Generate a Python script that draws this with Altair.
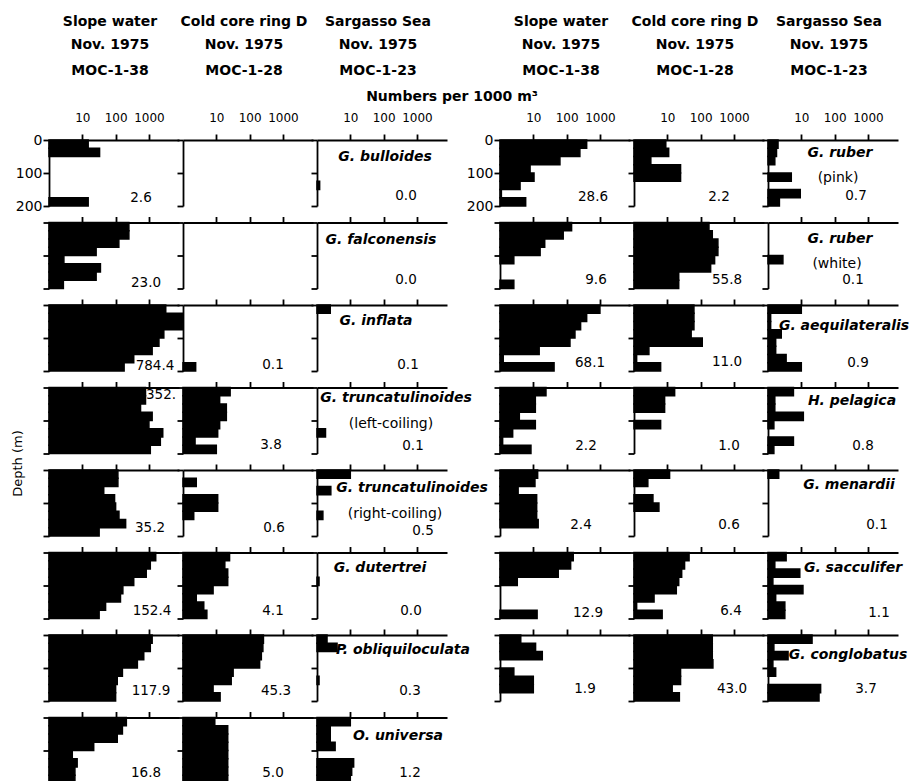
import altair as alt
import pandas as pd

# ---------------- data ----------------
DEPTH_TOP = [0, 25, 50, 75, 100, 125, 150, 175]
BIN = 25
X_TICKS = [10, 100, 1000]
Y_TICKS = [0, 100, 200]

SITE_NAMES = ["Slope water", "Cold core ring D", "Sargasso Sea"]
SITE_DATES = ["Nov. 1975", "Nov. 1975", "Nov. 1975"]
SITE_TOWS = ["MOC-1-38", "MOC-1-28", "MOC-1-23"]
X_TITLE = "Numbers per 1000 m³"
Y_TITLE = "Depth (m)"

LEFT_SPECIES = ["G. bulloides", "G. falconensis", "G. inflata", "G. truncatulinoides",
                "G. truncatulinoides", "G. dutertrei", "P. obliquiloculata", "O. universa"]
LEFT_SUB = ["", "", "", "(left-coiling)", "(right-coiling)", "", "", ""]
LEFT_TOTAL_SLOPE = ["2.6", "23.0", "784.4", "352.", "35.2", "152.4", "117.9", "16.8"]
LEFT_TOTAL_RING = ["", "", "0.1", "3.8", "0.6", "4.1", "45.3", "5.0"]
LEFT_TOTAL_SARG = ["0.0", "0.0", "0.1", "0.1", "0.5", "0.0", "0.3", "1.2"]

LEFT_SLOPE = [
    [15, 33, 0, 0, 0, 0, 0, 15],
    [250, 250, 125, 26, 2.8, 35, 26, 2.7],
    [3200, 10000, 10000, 2800, 2000, 1250, 350, 180],
    [790, 790, 560, 1250, 1000, 2600, 2200, 1100],
    [117, 117, 44, 93, 100, 126, 200, 32],
    [1600, 1100, 830, 350, 165, 140, 50, 32],
    [1250, 1100, 700, 450, 160, 112, 100, 100],
    [210, 160, 112, 22, 5, 7, 6, 6],
]
LEFT_RING = [
    [0, 0, 0, 0, 0, 0, 0, 0],
    [0, 0, 0, 0, 0, 0, 0, 0],
    [0, 0, 0, 0, 0, 0, 0, 2.4],
    [26, 12.6, 20, 20, 12.6, 11, 2.3, 10],
    [0, 2.5, 0, 11, 11, 2.1, 0, 0],
    [25, 18, 22, 22, 8, 2.5, 4.2, 5.2],
    [260, 250, 225, 200, 32, 28, 8, 13],
    [9, 22, 22, 22, 22, 22, 22, 22],
]
LEFT_SARG = [
    [0, 0, 0, 0, 0, 1.2, 0, 0],
    [0, 0, 0, 0, 0, 0, 0, 0],
    [2.5, 0, 0, 0, 0, 0, 0, 0],
    [0, 0, 0, 0, 0, 1.8, 0, 0],
    [10, 0, 2.6, 0, 0, 1.5, 0, 0],
    [0, 0, 0, 1.15, 0, 0, 0, 0],
    [2, 4, 0, 0, 0, 1.15, 0, 0],
    [10, 2.5, 2.5, 3.5, 0, 12.6, 11, 10],
]

RIGHT_SPECIES = ["G. ruber", "G. ruber", "G. aequilateralis", "H. pelagica",
                 "G. menardii", "G. sacculifer", "G. conglobatus"]
RIGHT_SUB = ["(pink)", "(white)", "", "", "", "", ""]
RIGHT_TOTAL_SLOPE = ["28.6", "9.6", "68.1", "2.2", "2.4", "12.9", "1.9"]
RIGHT_TOTAL_RING = ["2.2", "55.8", "11.0", "1.0", "0.6", "6.4", "43.0"]
RIGHT_TOTAL_SARG = ["0.7", "0.1", "0.9", "0.8", "0.1", "1.1", "3.7"]

RIGHT_SLOPE = [
    [400, 250, 63, 8, 10.5, 4, 1.1, 5.9],
    [141, 79, 22, 16, 2.6, 0, 0, 2.6],
    [1000, 400, 263, 178, 126, 15, 1.25, 42],
    [24, 11.5, 11.5, 3.8, 11.5, 2.4, 1.2, 8.5],
    [13.5, 11.2, 3.5, 12.6, 12.6, 12.6, 14, 0],
    [158, 132, 56, 3.3, 0, 0, 0, 13],
    [4.2, 11.7, 18.6, 0, 2.6, 10, 10, 0],
]
RIGHT_RING = [
    [9, 11, 3.2, 25, 25, 0, 0, 0],
    [178, 224, 330, 330, 263, 200, 22, 22],
    [63, 63, 63, 52, 112, 2.8, 1.2, 6.3],
    [16.6, 8.3, 8.3, 0, 6.3, 0, 0, 0],
    [11.7, 2.6, 0, 3.7, 5.6, 0, 0, 0],
    [45, 33, 27, 22, 18.6, 4, 1.2, 7],
    [224, 224, 224, 234, 25, 25, 14, 23],
]
RIGHT_SARG = [
    [2, 1.8, 1.6, 0, 5, 0, 9.3, 2.2],
    [0, 0, 0, 0, 2.8, 0, 0, 0],
    [10, 1.2, 1.2, 2.5, 1.7, 1.7, 3.5, 10],
    [5.8, 1.6, 1.6, 11.5, 1.5, 0, 5.8, 1.5],
    [2.1, 0, 0, 0, 0, 0, 0, 0],
    [3.5, 1.6, 9, 1.4, 11.2, 1.7, 3.2, 3.2],
    [21, 1.5, 4, 1.4, 1.7, 0, 38, 34],
]

# ---------------- layout / style (pixel offsets inside each panel) ----------------
PW, PH = 130, 66
GAP_W = 45
FONT = "DejaVu Sans"
LEFT_NAME_POS = [(68, 17), (64, 17), (59, 16), (79, 10), (95, 18), (63, 15), (86, 15), (81, 18)]
LEFT_SUB_POS = [None, None, None, (74, 36), (78, 44), None, None, None]
RIGHT_NAME_POS = [(72, 13), (72, 16), (76, 21), (84, 13), (81, 15), (85, 15), (80, 20)]
RIGHT_SUB_POS = [(70, 38), (69, 41), None, None, None, None, None]
LEFT_TOTAL_XY = [
    [(92, 58), (97, 60), (106, 61), (112, 7), (101, 58), (103, 58), (102, 56), (97, 55)],
    [(90, 57), (90, 57), (90, 60), (88, 57), (91, 58), (90, 58), (93, 56), (90, 55)],
    [(89, 56), (89, 57), (91, 60), (96, 58), (106, 61), (94, 58), (93, 56), (93, 55)],
]
RIGHT_TOTAL_XY = [
    [(93, 57), (96, 57), (90, 58), (86, 58), (81, 55), (88, 60), (85, 54)],
    [(85, 57), (93, 57), (93, 57), (95, 58), (95, 55), (97, 58), (98, 54)],
    [(88, 56), (85, 57), (90, 58), (95, 58), (109, 55), (111, 60), (98, 54)],
]


def text_layer(txt, x, y, **style):
    return alt.Chart(pd.DataFrame({"t": [txt]})).mark_text(
        font=FONT, color="black", **style
    ).encode(x=alt.value(x), y=alt.value(y), text="t:N")


def panel(vals, total, total_xy, grp, row, col, name=None, name_pos=None, sub=None, sub_pos=None):
    df = pd.DataFrame({
        "top": DEPTH_TOP,
        "bottom": [d + BIN for d in DEPTH_TOP],
        "n": vals,
    })
    df = df[df["n"] > 0]
    first = row == 0
    xaxis = alt.Axis(orient="top", values=X_TICKS, labels=first, format="d", title=None,
                     labelFontSize=12, labelPadding=10, labelFont=FONT)
    yaxis = alt.Axis(orient="left", values=Y_TICKS, labels=(first and col == 0), title=None,
                     labelFontSize=14, labelPadding=1, labelFont=FONT)
    bars = alt.Chart(df).mark_bar(color="black", stroke="black", strokeWidth=1.5).encode(
        x=alt.X("n:Q", scale=alt.Scale(type="log", domain=[1, 8000], nice=False), axis=xaxis),
        x2=alt.datum(1),
        y=alt.Y("top:Q", scale=alt.Scale(domain=[0, 200], reverse=True, nice=False), axis=yaxis),
        y2="bottom:Q",
    )
    layers = [bars]
    if total:
        layers.append(text_layer(total, total_xy[0], total_xy[1], fontSize=13.5,
                                 align="center", baseline="middle"))
    if name:
        layers.append(text_layer(name, name_pos[0], name_pos[1], fontSize=14, fontStyle="italic",
                                 fontWeight="bold", align="center", baseline="middle"))
    if sub:
        layers.append(text_layer(sub, sub_pos[0], sub_pos[1], fontSize=14,
                                 align="center", baseline="middle"))
    if first:
        for line, yy in zip([SITE_NAMES[col], SITE_DATES[col], SITE_TOWS[col]], [-118, -95, -69]):
            layers.append(text_layer(line, 61, yy, fontSize=14, fontWeight="bold",
                                     align="center", baseline="middle"))
        if grp == "L" and col == 2:
            layers.append(text_layer(X_TITLE, 135, -43, fontSize=14, fontWeight="bold",
                                     align="center", baseline="middle"))
    if grp == "L" and row == 3 and col == 0:
        layers.append(text_layer(Y_TITLE, -31, 76, fontSize=13, angle=270,
                                 align="center", baseline="middle"))
    return alt.layer(*layers).properties(width=PW, height=PH)


def spacer():
    return alt.Chart(pd.DataFrame({"t": [""]})).mark_text().encode(
        x=alt.value(0), y=alt.value(0), text="t:N"
    ).properties(width=GAP_W, height=PH)


LEFT = (LEFT_SPECIES, LEFT_SUB, LEFT_NAME_POS, LEFT_SUB_POS,
        [LEFT_TOTAL_SLOPE, LEFT_TOTAL_RING, LEFT_TOTAL_SARG], LEFT_TOTAL_XY,
        [LEFT_SLOPE, LEFT_RING, LEFT_SARG])
RIGHT = (RIGHT_SPECIES, RIGHT_SUB, RIGHT_NAME_POS, RIGHT_SUB_POS,
         [RIGHT_TOTAL_SLOPE, RIGHT_TOTAL_RING, RIGHT_TOTAL_SARG], RIGHT_TOTAL_XY,
         [RIGHT_SLOPE, RIGHT_RING, RIGHT_SARG])


def group_row(grp, spec, i):
    species, subs, name_pos, sub_pos, totals, total_xy, profiles = spec
    out = []
    for j in range(3):
        kw = {}
        if j == 2:
            kw = dict(name=species[i], name_pos=name_pos[i], sub=subs[i], sub_pos=sub_pos[i])
        out.append(panel(profiles[j][i], totals[j][i], total_xy[j][i], grp, i, j, **kw))
    return out


cells = []
for i in range(len(LEFT_SPECIES)):
    cells += group_row("L", LEFT, i)
    if i < len(RIGHT_SPECIES):
        cells.append(spacer())
        cells += group_row("R", RIGHT, i)

chart = alt.concat(
    *cells, columns=7, spacing={"row": 16.5, "column": 4}, bounds="flush"
).configure_view(
    stroke=None
).configure_axis(
    domainColor="black", domainWidth=1.8, tickColor="black", tickWidth=1.8,
    tickSize=6, labelColor="black", grid=False,
).properties(
    padding={"left": 12, "top": 15, "right": 5, "bottom": 5},
    background="white",
)

chart.save("out.html", embed_options={"renderer": "svg", "actions": False})
